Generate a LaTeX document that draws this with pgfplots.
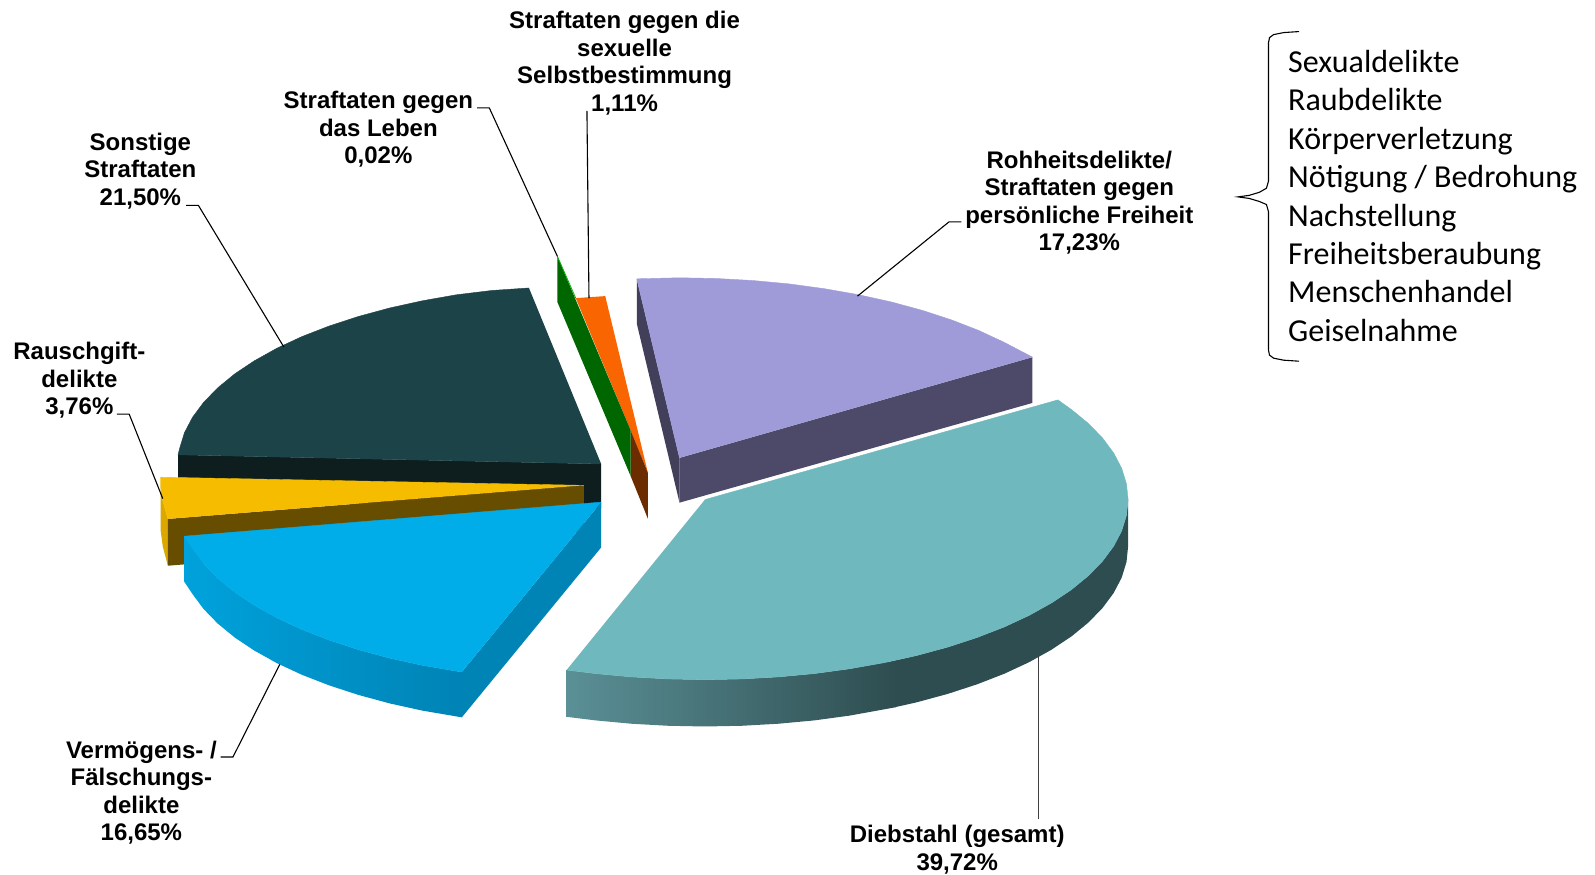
\documentclass[border=0pt]{standalone}
\usepackage{fontspec}
\setmainfont{Liberation Sans}
\newfontfamily\calibri{Carlito}
\usepackage{pgfplots}
\pgfplotsset{compat=1.18}
\definecolor{tealtop}{HTML}{6FB8BE}
\definecolor{tealL}{HTML}{5A9096}
\definecolor{tealD}{HTML}{2E4D50}
\definecolor{lilatop}{HTML}{9E9BD8}
\definecolor{lilafront}{HTML}{4C4A68}
\definecolor{lilaside}{HTML}{423F5A}
\definecolor{darktop}{HTML}{1C4347}
\definecolor{darkwall}{HTML}{0E1E1E}
\definecolor{yeltop}{HTML}{F6BC00}
\definecolor{yelfront}{HTML}{664D00}
\definecolor{yelside}{HTML}{DCA800}
\definecolor{bluetop}{HTML}{00ADE9}
\definecolor{blueL}{HTML}{00A2DC}
\definecolor{blueD}{HTML}{0083B5}
\definecolor{grnwall}{HTML}{006600}
\definecolor{orgtop}{HTML}{F96500}
\definecolor{brnwall}{HTML}{6B2C00}
\begin{document}
\begin{tikzpicture}[lab/.style={font=\bfseries\fontsize{12}{13.75}\selectfont,align=center,inner sep=0pt}]
\path[use as bounding box] (0,0) rectangle (797.5pt,437pt);
\begin{axis}[at={(0,0)},anchor=south west,width=797.5pt,height=437pt,scale only axis,
  xmin=0,xmax=1568,ymin=0,ymax=859,y dir=reverse,hide axis,clip=false,
  every axis plot/.append style={no markers}]
% Sonstige Straftaten
\addplot[fill=darkwall,draw=none] coordinates {(175,447)(591,456)(591,500)(175,491)};
\addplot[fill=darktop,draw=darktop,line width=0.2pt] coordinates {(591,456)(175,447)(176.6,440.6)(181.3,425.3)(189.2,410.2)(200.1,395.5)(214,381.2)(230.7,367.5)(250.2,354.5)(272.3,342.2)(296.8,330.8)(323.6,320.4)(352.4,311)(383,302.7)(415.2,295.6)(448.7,289.7)(483.3,285.5)(520,283)};
% Rauschgiftdelikte
\addplot[fill=yelside,draw=none] coordinates {(158,469)(158,477)(160,492)(165,510)(165,556)(160,537)(158,522)(158,515)};
\addplot[fill=yelfront,draw=none] coordinates {(165,510)(574,477)(574,523)(165,556)};
\addplot[fill=yeltop,draw=yeltop,line width=0.2pt] coordinates {(574,477)(158,469)(158,477)(160,492)(165,510)};
% Vermoegens- / Faelschungsdelikte
\addplot[left color=blueL,right color=blueD,draw=none] coordinates {(181,527)(189.2,539.3)(200.1,554)(214,568.3)(230.7,582)(250.2,595)(272.3,607.3)(296.8,618.7)(323.6,629.1)(352.4,638.5)(383,646.8)(415.2,653.9)(454,660.5)(454,705)(415.2,698.4)(383,691.3)(352.4,683)(323.6,673.6)(296.8,663.2)(272.3,651.8)(250.2,639.5)(230.7,626.5)(214,612.8)(200.1,598.5)(189.2,583.8)(181,571.5)};
\addplot[fill=blueD,draw=none] coordinates {(591,493.5)(454,660.5)(454,705)(591,538)};
\addplot[fill=bluetop,draw=bluetop,line width=0.2pt] coordinates {(591,493.5)(181,527)(189.2,539.3)(200.1,554)(214,568.3)(230.7,582)(250.2,595)(272.3,607.3)(296.8,618.7)(323.6,629.1)(352.4,638.5)(383,646.8)(415.2,653.9)(454,660.5)};
% Straftaten gegen das Leben / sexuelle Selbstbestimmung
\addplot[fill=orgtop,draw=none] coordinates {(566,293)(595,291)(637,465)(620,423)};
\addplot[fill=brnwall,draw=none] coordinates {(620,423)(637,465)(637,510)(620,468)};
\addplot[fill=grnwall,draw=none] coordinates {(548,252)(620,423)(620,468)(548,297)};
\addplot[color=green!70!black,line width=0.4pt] coordinates {(548,252)(566,293)};
% Rohheitsdelikte
\addplot[fill=lilaside,draw=none] coordinates {(626,274)(668,450)(668,494)(626,318)};
\addplot[fill=lilafront,draw=none] coordinates {(668,450)(1015,351)(1015,396)(668,494)};
\addplot[fill=lilatop,draw=lilatop,line width=0.2pt] coordinates {(668,450)(626,274)(668,273)(704.3,273.7)(740.2,275.7)(775.7,279)(810.3,283.7)(843.8,289.6)(876,296.7)(906.6,305)(935.4,314.4)(962.2,324.8)(986.7,336.2)(1015,351)};
% Diebstahl
\addplot[left color=tealL,right color=tealD,draw=none] coordinates {(557,658.5)(585.3,662)(620.8,665.3)(656.7,667.3)(693,668)(729.3,667.3)(765.2,665.3)(800.7,662)(835.3,657.3)(881,649)(881,695)(835.3,703.3)(800.7,708)(765.2,711.3)(729.3,713.3)(693,714)(656.7,713.3)(620.8,711.3)(585.3,708)(557,704.5)};
\addplot[fill=tealD,draw=none] coordinates {(880,649)(901,644.3)(931.6,636)(960.4,626.6)(987.2,616.2)(1011.7,604.8)(1033.8,592.5)(1053.3,579.5)(1070,565.8)(1083.9,551.5)(1094.8,536.8)(1102.7,521.7)(1107.4,506.4)(1109,491)(1109,537)(1107.4,552.4)(1102.7,567.7)(1094.8,582.8)(1083.9,597.5)(1070,611.8)(1053.3,625.5)(1033.8,638.5)(1011.7,650.8)(987.2,662.2)(960.4,672.6)(931.6,682)(901,690.3)(880,695)};
\addplot[fill=tealtop,draw=tealtop,line width=0.2pt] coordinates {(693,491)(1040,393)(1053.3,402.5)(1070,416.2)(1083.9,430.5)(1094.8,445.2)(1102.7,460.3)(1107.4,475.6)(1109,491)(1107.4,506.4)(1102.7,521.7)(1094.8,536.8)(1083.9,551.5)(1070,565.8)(1053.3,579.5)(1033.8,592.5)(1011.7,604.8)(987.2,616.2)(960.4,626.6)(931.6,636)(901,644.3)(868.8,651.4)(835.3,657.3)(800.7,662)(765.2,665.3)(729.3,667.3)(693,668)(656.7,667.3)(620.8,665.3)(585.3,662)(557,658.5)};
% leader lines
\addplot[black,line width=0.55pt] coordinates {(183,201.8)(195,201.8)(279,341)};
\addplot[black,line width=0.55pt] coordinates {(469,106)(481,106)(548,252)};
\addplot[black,line width=0.55pt] coordinates {(577,109)(579,293)};
\addplot[black,line width=0.55pt] coordinates {(945,218)(933,218)(843,291)};
\addplot[black,line width=0.55pt] coordinates {(115,407)(127,407)(160,490)};
\addplot[black,line width=0.55pt] coordinates {(217,744)(229,744)(275,653)};
\addplot[black!75,line width=0.55pt] coordinates {(1021,805)(1021,645)};
% brace
\addplot[black,line width=0.55pt] coordinates {(1277,31)(1262,32)(1252,34)(1248,37)(1247,42)(1247,178)(1245,185)(1238,189)(1228,192)(1217,193.5)(1228,195)(1238,198)(1245,201)(1247,208)(1247,344)(1248,349)(1252,352)(1262,354)(1277,355)};
% labels
\node[lab] at (axis cs:614,62) {Straftaten gegen die\\sexuelle\\Selbstbestimmung\\1,11\%};
\node[lab] at (axis cs:372,127) {Straftaten gegen\\das Leben\\0,02\%};
\node[lab] at (axis cs:138,168) {Sonstige\\Straftaten\\21,50\%};
\node[lab] at (axis cs:1061,199) {Rohheitsdelikte/\\Straftaten gegen\\persönliche Freiheit\\17,23\%};
\node[lab] at (axis cs:78,374) {Rauschgift-\\delikte\\3,76\%};
\node[lab] at (axis cs:139,779) {Vermögens- /\\Fälschungs-\\delikte\\16,65\%};
\node[lab] at (axis cs:941,835) {Diebstahl (gesamt)\\39,72\%};
\node[anchor=west,align=left,inner sep=0pt,font=\calibri\fontsize{16}{19.2}\selectfont] at (axis cs:1266,192.5) {Sexualdelikte\\Raubdelikte\\Körperverletzung\\Nötigung / Bedrohung\\Nachstellung\\Freiheitsberaubung\\Menschenhandel\\Geiselnahme};
\end{axis}
\end{tikzpicture}
\end{document}
